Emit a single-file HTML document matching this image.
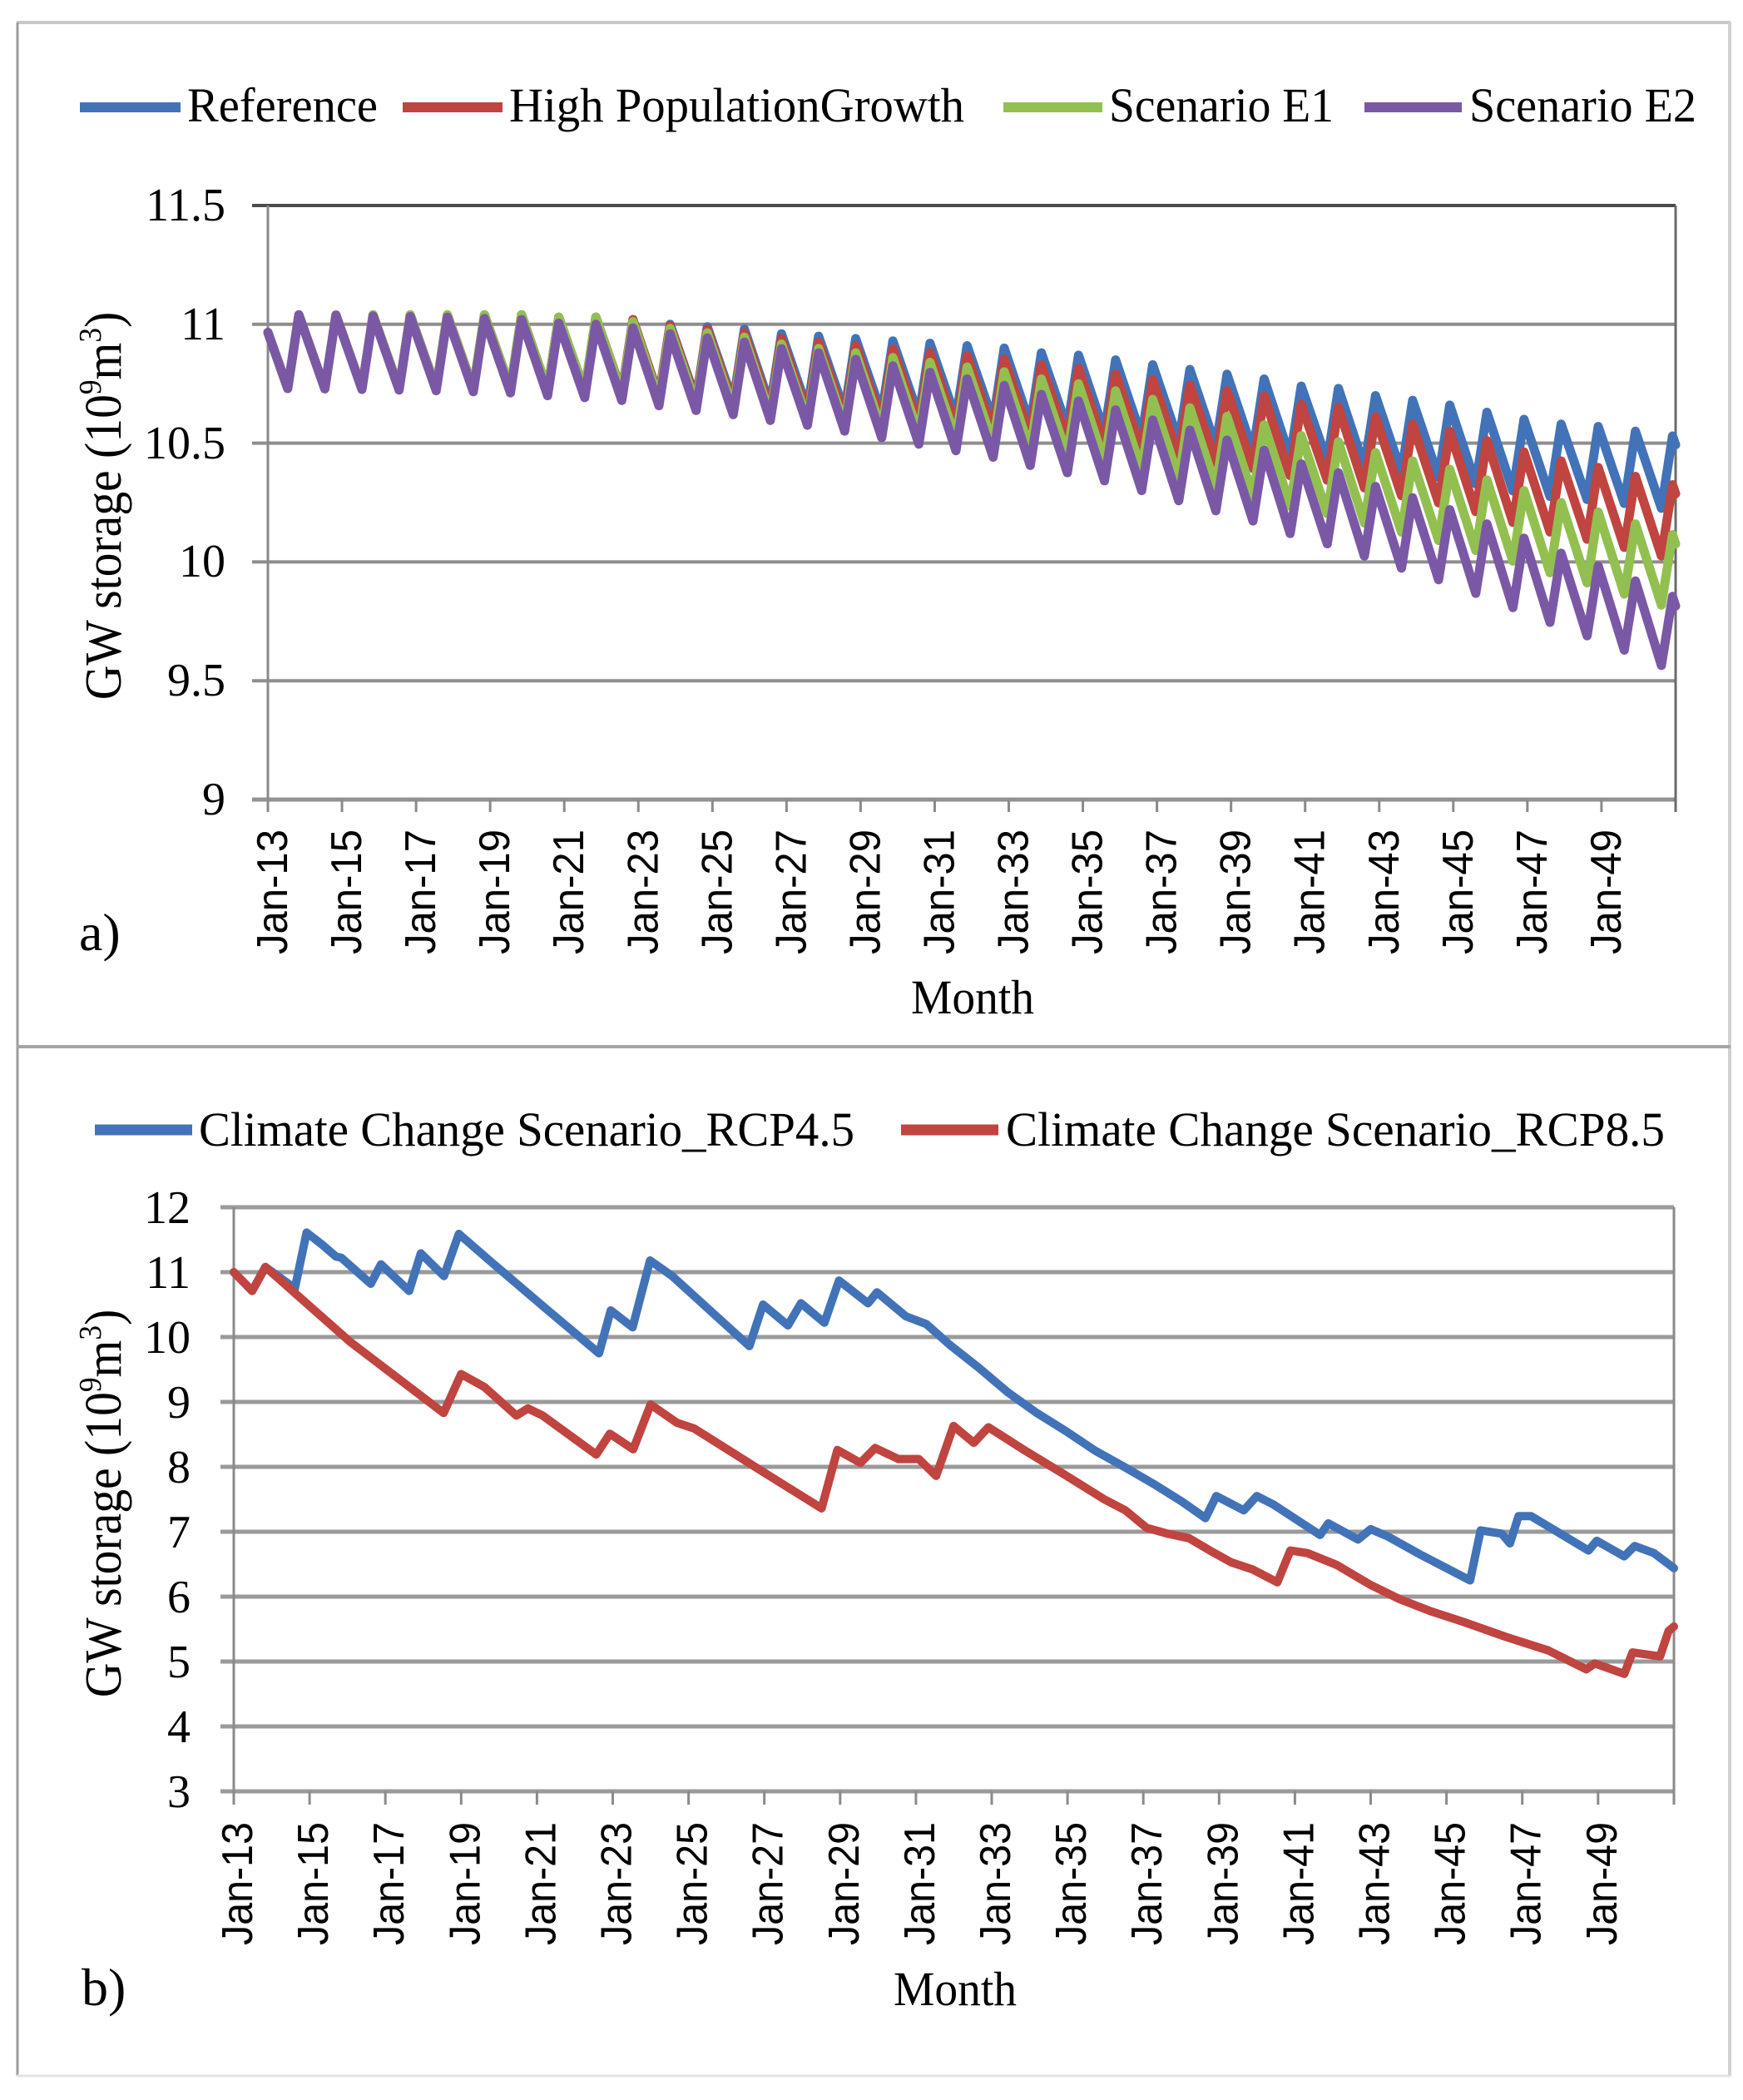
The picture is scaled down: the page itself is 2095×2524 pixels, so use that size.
<!DOCTYPE html>
<html>
<head>
<meta charset="utf-8">
<style>
html,body{margin:0;padding:0;background:#fff;}
svg{display:block;}
text{font-family:"Liberation Serif","Times New Roman",serif;fill:#000;}
.sans{font-family:"Liberation Sans",Arial,sans-serif;}
</style>
</head>
<body>
<svg id="chart" xmlns="http://www.w3.org/2000/svg" width="2095" height="2524" viewBox="0 0 2095 2524">
<rect x="0" y="0" width="2095" height="2524" fill="#fff"/>

<!-- outer frame -->
<line x1="20" y1="27" x2="2080" y2="27" stroke="#c8c8c8" stroke-width="4"/>
<line x1="21" y1="27" x2="21" y2="2495" stroke="#9c9c9c" stroke-width="3"/>
<line x1="2079" y1="27" x2="2079" y2="2495" stroke="#d0d0d0" stroke-width="4"/>
<line x1="20" y1="1258" x2="2080" y2="1258" stroke="#a5a5a5" stroke-width="4"/>
<line x1="20" y1="2495" x2="2080" y2="2495" stroke="#e2e2e2" stroke-width="3"/>

<!-- ================= PANEL A ================= -->
<line x1="96" y1="129" x2="217" y2="129" stroke="#4273b8" stroke-width="12"/>
<text x="225" y="146" font-size="58" textLength="229" lengthAdjust="spacingAndGlyphs">Reference</text>
<line x1="484" y1="129" x2="604" y2="129" stroke="#c0443f" stroke-width="12"/>
<text x="612" y="146" font-size="58" textLength="547" lengthAdjust="spacingAndGlyphs">High PopulationGrowth</text>
<line x1="1206" y1="129" x2="1325" y2="129" stroke="#92c050" stroke-width="12"/>
<text x="1333" y="146" font-size="58" textLength="270" lengthAdjust="spacingAndGlyphs">Scenario E1</text>
<line x1="1640" y1="129" x2="1757" y2="129" stroke="#7b58a6" stroke-width="12"/>
<text x="1766" y="146" font-size="58" textLength="273" lengthAdjust="spacingAndGlyphs">Scenario E2</text>

<line x1="303" y1="389.8" x2="2014" y2="389.8" stroke="#8e8e8e" stroke-width="4"/>
<line x1="303" y1="532.6" x2="2014" y2="532.6" stroke="#8e8e8e" stroke-width="4"/>
<line x1="303" y1="675.4" x2="2014" y2="675.4" stroke="#8e8e8e" stroke-width="4"/>
<line x1="303" y1="818.2" x2="2014" y2="818.2" stroke="#8e8e8e" stroke-width="4"/>
<line x1="303" y1="961" x2="2014" y2="961" stroke="#929292" stroke-width="5"/>
<line x1="303" y1="247" x2="2014" y2="247" stroke="#4a4a4a" stroke-width="4"/>
<line x1="322" y1="247" x2="322" y2="976" stroke="#8a8a8a" stroke-width="3"/>
<line x1="2014" y1="247" x2="2014" y2="976" stroke="#6a6a6a" stroke-width="3"/>
<path d="M411.05 961V976M500.1 961V976M589.15 961V976M678.2 961V976M767.25 961V976M856.3 961V976M945.35 961V976M1034.4 961V976M1123.45 961V976M1212.5 961V976M1301.55 961V976M1390.6 961V976M1479.65 961V976M1568.7 961V976M1657.75 961V976M1746.8 961V976M1835.85 961V976M1924.9 961V976" stroke="#8a8a8a" stroke-width="3" fill="none"/>

<g font-size="56" text-anchor="end">
<text x="271" y="265">11.5</text>
<text x="271" y="408">11</text>
<text x="271" y="551">10.5</text>
<text x="271" y="693">10</text>
<text x="271" y="836">9.5</text>
<text x="271" y="979">9</text>
</g>

<text transform="translate(145,608) rotate(-90) scale(0.93,1)" text-anchor="middle" font-size="62">GW storage (10<tspan font-size="38" dy="-24">9</tspan><tspan dy="24">m</tspan><tspan font-size="38" dy="-24">3</tspan><tspan dy="24">)</tspan></text>

<g class="sans" font-size="52" text-anchor="end">
<text class="sans" transform="translate(345,997) rotate(-90)" textLength="150" lengthAdjust="spacingAndGlyphs">Jan-13</text>
<text class="sans" transform="translate(434.05,997) rotate(-90)" textLength="150" lengthAdjust="spacingAndGlyphs">Jan-15</text>
<text class="sans" transform="translate(523.1,997) rotate(-90)" textLength="150" lengthAdjust="spacingAndGlyphs">Jan-17</text>
<text class="sans" transform="translate(612.15,997) rotate(-90)" textLength="150" lengthAdjust="spacingAndGlyphs">Jan-19</text>
<text class="sans" transform="translate(701.2,997) rotate(-90)" textLength="150" lengthAdjust="spacingAndGlyphs">Jan-21</text>
<text class="sans" transform="translate(790.25,997) rotate(-90)" textLength="150" lengthAdjust="spacingAndGlyphs">Jan-23</text>
<text class="sans" transform="translate(879.3,997) rotate(-90)" textLength="150" lengthAdjust="spacingAndGlyphs">Jan-25</text>
<text class="sans" transform="translate(968.35,997) rotate(-90)" textLength="150" lengthAdjust="spacingAndGlyphs">Jan-27</text>
<text class="sans" transform="translate(1057.4,997) rotate(-90)" textLength="150" lengthAdjust="spacingAndGlyphs">Jan-29</text>
<text class="sans" transform="translate(1146.45,997) rotate(-90)" textLength="150" lengthAdjust="spacingAndGlyphs">Jan-31</text>
<text class="sans" transform="translate(1235.5,997) rotate(-90)" textLength="150" lengthAdjust="spacingAndGlyphs">Jan-33</text>
<text class="sans" transform="translate(1324.55,997) rotate(-90)" textLength="150" lengthAdjust="spacingAndGlyphs">Jan-35</text>
<text class="sans" transform="translate(1413.6,997) rotate(-90)" textLength="150" lengthAdjust="spacingAndGlyphs">Jan-37</text>
<text class="sans" transform="translate(1502.65,997) rotate(-90)" textLength="150" lengthAdjust="spacingAndGlyphs">Jan-39</text>
<text class="sans" transform="translate(1591.7,997) rotate(-90)" textLength="150" lengthAdjust="spacingAndGlyphs">Jan-41</text>
<text class="sans" transform="translate(1680.75,997) rotate(-90)" textLength="150" lengthAdjust="spacingAndGlyphs">Jan-43</text>
<text class="sans" transform="translate(1769.8,997) rotate(-90)" textLength="150" lengthAdjust="spacingAndGlyphs">Jan-45</text>
<text class="sans" transform="translate(1858.85,997) rotate(-90)" textLength="150" lengthAdjust="spacingAndGlyphs">Jan-47</text>
<text class="sans" transform="translate(1947.9,997) rotate(-90)" textLength="150" lengthAdjust="spacingAndGlyphs">Jan-49</text>
</g>

<text x="1095" y="1218" font-size="58" textLength="148" lengthAdjust="spacingAndGlyphs">Month</text>
<text x="95" y="1142" font-size="64">a)</text>

<g id="seriesA"></g>

<!-- ================= PANEL B ================= -->
<line x1="114" y1="1358" x2="231" y2="1358" stroke="#4273b8" stroke-width="13"/>
<text x="239" y="1377" font-size="58" textLength="788" lengthAdjust="spacingAndGlyphs">Climate Change Scenario_RCP4.5</text>
<line x1="1083" y1="1358" x2="1200" y2="1358" stroke="#c0443f" stroke-width="13"/>
<text x="1209" y="1377" font-size="58" textLength="792" lengthAdjust="spacingAndGlyphs">Climate Change Scenario_RCP8.5</text>

<g stroke="#9a9a9a" stroke-width="5">
<line x1="265" y1="1451" x2="2012" y2="1451"/>
<line x1="265" y1="1529" x2="2012" y2="1529"/>
<line x1="265" y1="1607" x2="2012" y2="1607"/>
<line x1="265" y1="1685" x2="2012" y2="1685"/>
<line x1="265" y1="1763" x2="2012" y2="1763"/>
<line x1="265" y1="1841" x2="2012" y2="1841"/>
<line x1="265" y1="1919" x2="2012" y2="1919"/>
<line x1="265" y1="1997" x2="2012" y2="1997"/>
<line x1="265" y1="2075" x2="2012" y2="2075"/>
<line x1="265" y1="2153" x2="2012" y2="2153"/>
</g>
<line x1="281" y1="1451" x2="281" y2="2169" stroke="#8a8a8a" stroke-width="3"/>
<line x1="2012" y1="1451" x2="2012" y2="2169" stroke="#8a8a8a" stroke-width="3"/>
<path d="M372.1 2153V2169M463.2 2153V2169M554.3 2153V2169M645.4 2153V2169M736.5 2153V2169M827.6 2153V2169M918.7 2153V2169M1009.8 2153V2169M1100.9 2153V2169M1192 2153V2169M1283.1 2153V2169M1374.2 2153V2169M1465.3 2153V2169M1556.4 2153V2169M1647.5 2153V2169M1738.6 2153V2169M1829.7 2153V2169M1920.8 2153V2169" stroke="#8a8a8a" stroke-width="3" fill="none"/>

<g font-size="56" text-anchor="end">
<text x="229" y="1470">12</text>
<text x="229" y="1548">11</text>
<text x="229" y="1626">10</text>
<text x="229" y="1704">9</text>
<text x="229" y="1782">8</text>
<text x="229" y="1860">7</text>
<text x="229" y="1938">6</text>
<text x="229" y="2016">5</text>
<text x="229" y="2094">4</text>
<text x="229" y="2172">3</text>
</g>

<text transform="translate(145,1807) rotate(-90) scale(0.93,1)" text-anchor="middle" font-size="62">GW storage (10<tspan font-size="38" dy="-24">9</tspan><tspan dy="24">m</tspan><tspan font-size="38" dy="-24">3</tspan><tspan dy="24">)</tspan></text>

<g class="sans" font-size="52" text-anchor="end">
<text class="sans" transform="translate(303,2190) rotate(-90)" textLength="148" lengthAdjust="spacingAndGlyphs">Jan-13</text>
<text class="sans" transform="translate(394.1,2190) rotate(-90)" textLength="148" lengthAdjust="spacingAndGlyphs">Jan-15</text>
<text class="sans" transform="translate(485.2,2190) rotate(-90)" textLength="148" lengthAdjust="spacingAndGlyphs">Jan-17</text>
<text class="sans" transform="translate(576.3,2190) rotate(-90)" textLength="148" lengthAdjust="spacingAndGlyphs">Jan-19</text>
<text class="sans" transform="translate(667.4,2190) rotate(-90)" textLength="148" lengthAdjust="spacingAndGlyphs">Jan-21</text>
<text class="sans" transform="translate(758.5,2190) rotate(-90)" textLength="148" lengthAdjust="spacingAndGlyphs">Jan-23</text>
<text class="sans" transform="translate(849.6,2190) rotate(-90)" textLength="148" lengthAdjust="spacingAndGlyphs">Jan-25</text>
<text class="sans" transform="translate(940.7,2190) rotate(-90)" textLength="148" lengthAdjust="spacingAndGlyphs">Jan-27</text>
<text class="sans" transform="translate(1031.8,2190) rotate(-90)" textLength="148" lengthAdjust="spacingAndGlyphs">Jan-29</text>
<text class="sans" transform="translate(1122.9,2190) rotate(-90)" textLength="148" lengthAdjust="spacingAndGlyphs">Jan-31</text>
<text class="sans" transform="translate(1214,2190) rotate(-90)" textLength="148" lengthAdjust="spacingAndGlyphs">Jan-33</text>
<text class="sans" transform="translate(1305.1,2190) rotate(-90)" textLength="148" lengthAdjust="spacingAndGlyphs">Jan-35</text>
<text class="sans" transform="translate(1396.2,2190) rotate(-90)" textLength="148" lengthAdjust="spacingAndGlyphs">Jan-37</text>
<text class="sans" transform="translate(1487.3,2190) rotate(-90)" textLength="148" lengthAdjust="spacingAndGlyphs">Jan-39</text>
<text class="sans" transform="translate(1578.4,2190) rotate(-90)" textLength="148" lengthAdjust="spacingAndGlyphs">Jan-41</text>
<text class="sans" transform="translate(1669.5,2190) rotate(-90)" textLength="148" lengthAdjust="spacingAndGlyphs">Jan-43</text>
<text class="sans" transform="translate(1760.6,2190) rotate(-90)" textLength="148" lengthAdjust="spacingAndGlyphs">Jan-45</text>
<text class="sans" transform="translate(1851.7,2190) rotate(-90)" textLength="148" lengthAdjust="spacingAndGlyphs">Jan-47</text>
<text class="sans" transform="translate(1942.8,2190) rotate(-90)" textLength="148" lengthAdjust="spacingAndGlyphs">Jan-49</text>
</g>

<text x="1074" y="2410" font-size="58" textLength="148" lengthAdjust="spacingAndGlyphs">Month</text>
<text x="98" y="2410" font-size="64">b)</text>

<g id="seriesB"></g>
</svg>

<script>
(function(){
  var NS = 'http://www.w3.org/2000/svg';
  function addPath(g, pts, fx, fy, col, w){
    var d = '';
    for (var i = 0; i < pts.length; i++){
      d += (i ? 'L' : 'M') + fx(pts[i][0]).toFixed(1) + ' ' + fy(pts[i][1]).toFixed(1);
    }
    var p = document.createElementNS(NS, 'path');
    p.setAttribute('d', d);
    p.setAttribute('fill', 'none');
    p.setAttribute('stroke', col);
    p.setAttribute('stroke-width', w);
    p.setAttribute('stroke-linejoin', 'round');
    p.setAttribute('stroke-linecap', 'round');
    g.appendChild(p);
  }
  function interp(t, tb){
    if (t <= tb[0][0]) return tb[0][1];
    for (var i = 1; i < tb.length; i++){
      if (t <= tb[i][0]){
        var a = tb[i-1], b = tb[i];
        return a[1] + (b[1]-a[1])*(t-a[0])/(b[0]-a[0]);
      }
    }
    return tb[tb.length-1][1];
  }

  /* ---------- Panel A ---------- */
  var gA = document.getElementById('seriesA');
  var xa = function(m){ return 322 + m*1692/455; };
  var ya = function(v){ return 247 + (11.5 - v)*285.6; };
  var Pb = [11.04,11.04,11.04,11.04,11.04,11.04,11.04,11.03,11.03,11.02,11.00,10.99,10.98,10.96,10.95,10.94,10.93,10.92,10.91,10.90,10.88,10.87,10.85,10.83,10.81,10.79,10.77,10.74,10.73,10.70,10.68,10.66,10.63,10.60,10.58,10.57,10.55,10.53];
  var PbT = Pb.map(function(v,i){ return [12*i+10, v]; });
  function yrT(tb){ return tb.map(function(a){ return [a[0]*12+10, a[1]]; }); }
  var offB = [[0,0],[500,0]];
  var offR = yrT([[0,0],[9,0],[15,0.03],[22,0.06],[28,0.08],[32,0.12],[36,0.19],[38,0.22]]);
  var offG = yrT([[0,0],[8,0],[15,0.06],[22,0.13],[29,0.24],[33,0.30],[36,0.39],[38,0.44]]);
  var offP = yrT([[0,0],[4,0.01],[6,0.02],[10,0.04],[14,0.07],[18,0.14],[22,0.21],[26,0.30],[30,0.41],[33,0.50],[36,0.63],[38,0.72]]);
  var A = 0.31;
  function pk(t, off){ return interp(t, PbT) - interp(t, off); }
  function tr(t, off){ return pk(t, off) - A; }
  function series(off){
    var pts = [];
    var p0 = pk(-2, off), t0 = tr(6.4, off);
    pts.push([0, p0 + (t0 - p0)*(2/8.4)]);
    for (var y = 0; y <= 37; y++){
      pts.push([12*y+6.4, tr(12*y+6.4, off)]);
      pts.push([12*y+10, pk(12*y+10, off)]);
    }
    var pe = pk(454, off), te = tr(462.4, off);
    pts.push([455, pe + (te - pe)*(1/8.4)]);
    return pts;
  }
  addPath(gA, series(offB), xa, ya, '#4273b8', 11);
  addPath(gA, series(offR), xa, ya, '#c0443f', 11);
  addPath(gA, series(offG), xa, ya, '#92c050', 11);
  addPath(gA, series(offP), xa, ya, '#7b58a6', 11);

  /* ---------- Panel B ---------- */
  var gB = document.getElementById('seriesB');
  var xb = function(m){ return 281 + m*1731/455; };
  var yb = function(v){ return 1451 + (12 - v)*78; };
  var blue = [[0,11.0],[5.8,10.71],[10,11.08],[19.3,10.75],[23,11.61],[28,11.42],[32.3,11.24],[34,11.22],[43.3,10.82],[46.5,11.12],[55.4,10.71],[59.1,11.29],[66.4,10.94],[71.1,11.59],[82.2,11.12],[98.8,10.43],[115.4,9.75],[119.1,10.41],[126,10.15],[131.5,11.18],[138.5,10.94],[162.9,9.86],[167.2,10.50],[175.1,10.18],[179.2,10.52],[186.6,10.22],[191.2,10.87],[200.4,10.52],[203.2,10.69],[212.3,10.32],[218.8,10.20],[226.2,9.88],[235.3,9.53],[244.5,9.15],[253.7,8.83],[262.9,8.55],[272.1,8.25],[281.3,8.00],[290.5,7.74],[299.7,7.46],[307,7.21],[310.4,7.55],[319.1,7.33],[323.2,7.55],[328.4,7.42],[343.2,6.95],[345.8,7.13],[355.2,6.88],[359.2,7.04],[364.5,6.93],[375.2,6.64],[390.6,6.25],[393.9,7.02],[400.6,6.97],[403.2,6.82],[405.9,7.24],[409.9,7.24],[428,6.71],[430.6,6.86],[439.3,6.62],[442.6,6.78],[448.7,6.67],[455,6.44]];
  var red = [[0,11.0],[5.8,10.71],[10,11.08],[36.9,9.92],[66.3,8.83],[71.8,9.43],[79.2,9.23],[89.3,8.79],[92.9,8.90],[97.6,8.79],[114.5,8.19],[118.8,8.51],[126.2,8.27],[131.7,8.96],[140,8.68],[145.5,8.59],[166.3,7.95],[185.7,7.36],[190.7,8.26],[198,8.06],[202.6,8.29],[210,8.12],[216.4,8.12],[221.9,7.86],[227.4,8.63],[233.8,8.37],[238.4,8.61],[250,8.25],[262.8,7.87],[275,7.50],[281.7,7.33],[288.4,7.06],[295,6.97],[301.8,6.90],[308.4,6.71],[315.1,6.53],[321.8,6.42],[329.7,6.22],[333.8,6.71],[339.2,6.67],[348.4,6.49],[359.2,6.18],[368.4,5.96],[377.9,5.78],[388.5,5.61],[401.9,5.38],[415.3,5.17],[427.3,4.88],[430,4.97],[439.3,4.81],[441.9,5.14],[450.6,5.08],[453.3,5.47],[455,5.54]];
  addPath(gB, blue, xb, yb, '#4273b8', 10);
  addPath(gB, red, xb, yb, '#c0443f', 10);
})();
</script>
</body>
</html>
